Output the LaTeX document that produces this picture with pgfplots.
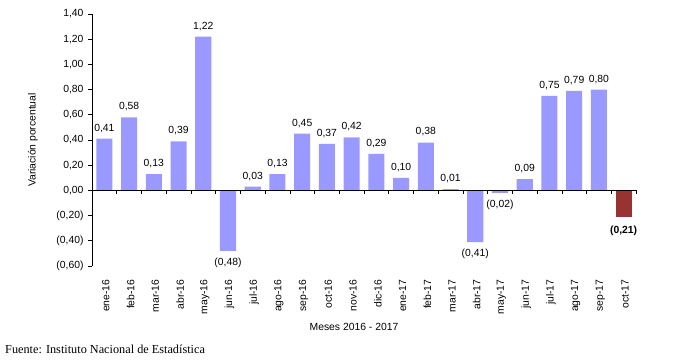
\documentclass[border=0pt]{standalone}
\usepackage{pgfplots}
\pgfplotsset{compat=1.18}
\usepackage{fontspec}
\setmainfont{Liberation Sans}
\newfontfamily\seriffont{Liberation Serif}
\definecolor{barblue}{HTML}{9999FF}
\definecolor{barred}{HTML}{993333}
\begin{document}
\begin{tikzpicture}
\useasboundingbox (0,0) rectangle (681bp,364bp);
\begin{axis}[
  at={(92bp,98bp)}, anchor=south west,
  scale only axis, width=544bp, height=252bp,
  xmin=-0.5, xmax=21.5, ymin=-0.6, ymax=1.4,
  axis x line*=bottom, axis y line*=left,
  x axis line style={draw=none},
  x tick style={draw=none},
  y tick style={black, line width=0.6bp},
  y axis line style={black, line width=0.8bp},
  tick align=outside, major tick length=4bp,
  xtick={0,...,21},
  xticklabels={ene-16,feb-16,mar-16,abr-16,may-16,jun-16,jul-16,ago-16,sep-16,oct-16,nov-16,dic-16,ene-17,feb-17,mar-17,abr-17,may-17,jun-17,jul-17,ago-17,sep-17,oct-17},
  xticklabel style={rotate=90, anchor=east, font=\fontsize{10.4}{12}\selectfont, xshift=-6bp, yshift=-1.5bp},
  ytick={-0.6,-0.4,-0.2,0,0.2,0.4,0.6,0.8,1.0,1.2,1.4},
  yticklabels={{(0,60)},{(0,40)},{(0,20)},{0,00},{0,20},{0,40},{0,60},{0,80},{1,00},{1,20},{1,40}},
  yticklabel style={font=\fontsize{10.4}{12}\selectfont, xshift=-1bp},
  ybar, bar width=0.65,
  nodes near coords, point meta=explicit symbolic,
  every node near coord/.append style={font=\fontsize{10.4}{12}\selectfont, inner sep=6bp, black, anchor=south},
  clip=false,
]
\addplot[fill=barblue, draw=none, bar shift=0pt] table[x=x, y=y, meta=lab] {
x y lab
0 0.41 0,41
1 0.58 0,58
2 0.13 0,13
3 0.39 0,39
4 1.22 1,22
6 0.03 0,03
7 0.13 0,13
8 0.45 0,45
9 0.37 0,37
10 0.42 0,42
11 0.29 0,29
12 0.10 0,10
13 0.38 0,38
14 0.01 0,01
17 0.09 0,09
18 0.75 0,75
19 0.79 0,79
20 0.80 0,80
};
\addplot[fill=barblue, draw=none, bar shift=0pt, every node near coord/.append style={anchor=north, inner sep=7bp}] table[x=x, y=y, meta=lab] {
x y lab
5 -0.48 (0,48)
15 -0.41 (0,41)
16 -0.02 (0,02)
};
\addplot[fill=barred, draw=none, bar shift=0pt, every node near coord/.append style={anchor=north, inner sep=9bp, font=\bfseries\fontsize{10.4}{12}\selectfont}] table[x=x, y=y, meta=lab] {
x y lab
21 -0.21 (0,21)
};
\end{axis}
\draw[black, line width=0.8bp] (92bp,173.6bp) -- (636bp,173.6bp);
\foreach \k in {0,...,22} {
  \draw[black, line width=0.6bp] ({92bp+\k*24.7273bp},173.6bp) -- ++(0,-4bp);
}
\node[rotate=90, font=\fontsize{10.4}{12}\selectfont] at (33bp,224bp) {Variación porcentual};
\node[font=\fontsize{10.4}{12}\selectfont] at (354bp,37bp) {Meses 2016 - 2017};
\node[anchor=west, font=\seriffont\fontsize{12.3}{14}\selectfont, inner sep=0pt] at (5bp,15bp) {Fuente: Instituto Nacional de Estadística};
\end{tikzpicture}
\end{document}
